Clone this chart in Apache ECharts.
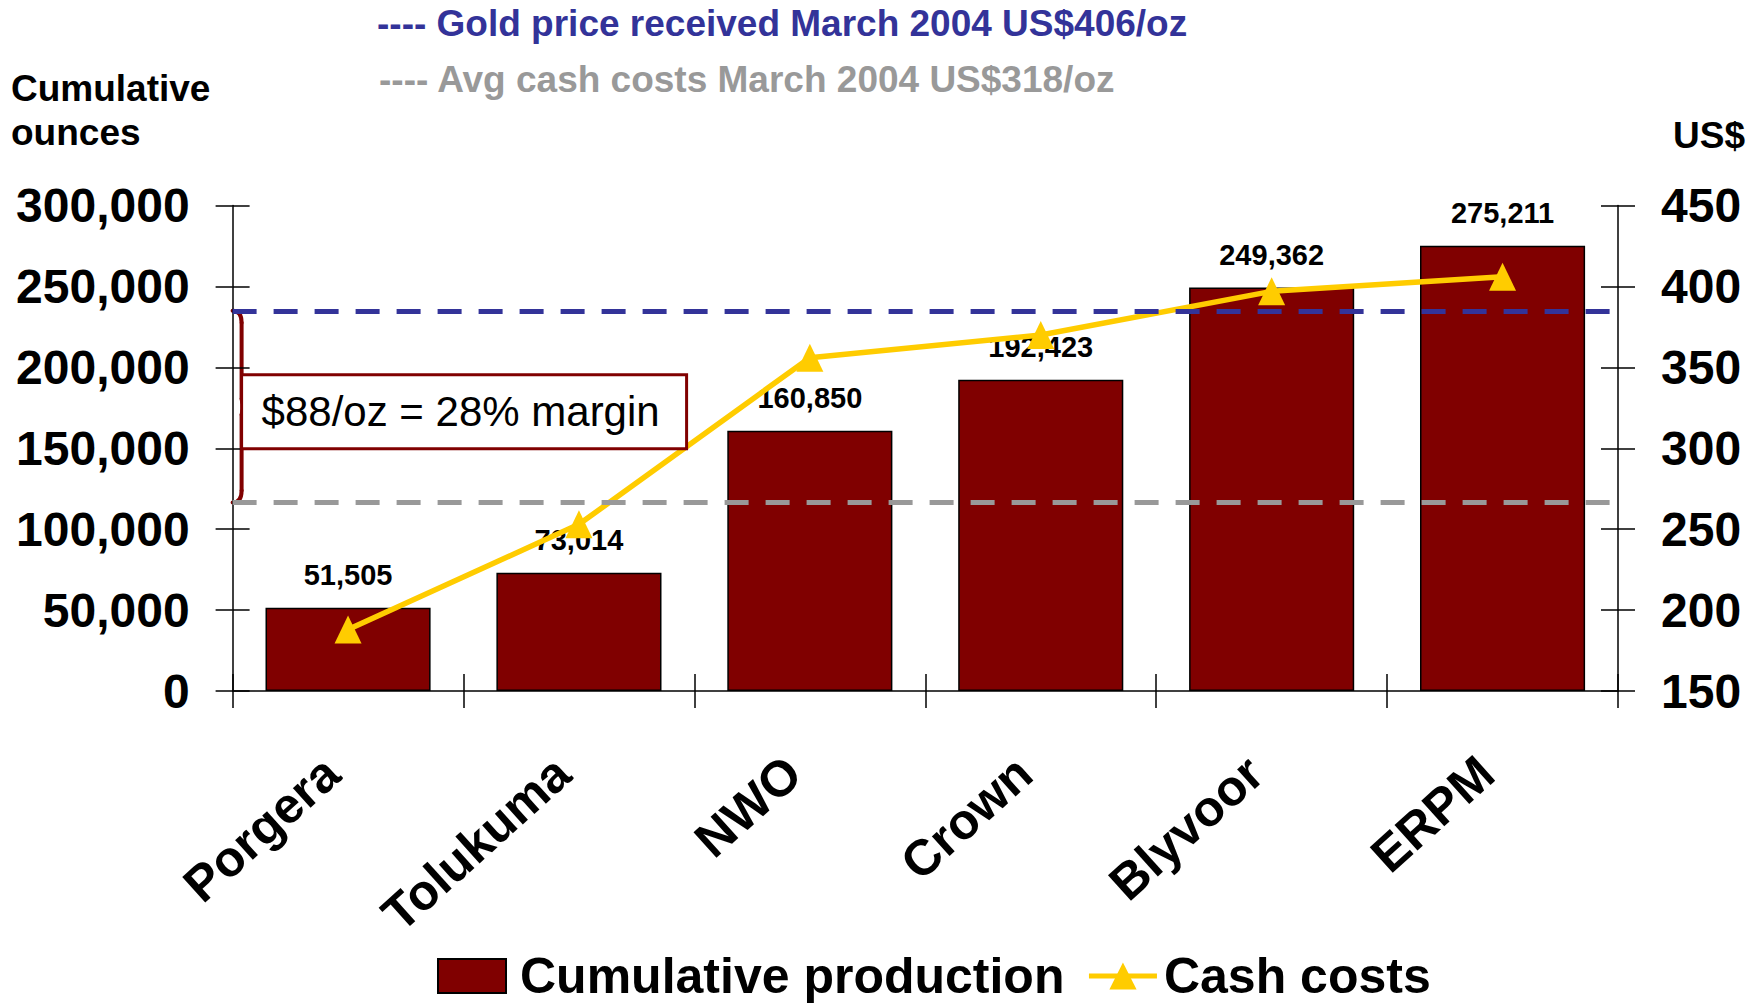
<!DOCTYPE html>
<html>
<head>
<meta charset="utf-8">
<title>Cumulative production and cash costs</title>
<script src="https://cdn.jsdelivr.net/npm/echarts@6.0.0/dist/echarts.min.js"></script>
<style>
  html, body { margin: 0; padding: 0; background: #fff; }
  #chart { width: 1762px; height: 1008px; }
</style>
</head>
<body>
<div id="chart"></div>
<script>
const sites = ['Porgera', 'Tolukuma', 'NWO', 'Crown', 'Blyvoor', 'ERPM']
const cumulativeOunces = [51505, 73014, 160850, 192423, 249362, 275211]
const cashCosts = [188, 253, 356, 370, 397, 406]

const goldPriceLevel = 385
const avgCashCostLevel = 266.5

const ounceAxis = { min: 0, max: 300000, interval: 50000 }
const dollarAxis = { min: 150, max: 450, interval: 50 }

const fontFamily = '"Liberation Sans", Arial, sans-serif'
const gridLeft = 232.6
const black = '#000'
const braceRed = '#800000'
const gold = '#FFCC00'

const tickStyle = { color: black, width: 1.5 }

const valueAxis = (range, position, inside) => ({
  type: 'value',
  position,
  min: range.min,
  max: range.max,
  interval: range.interval,
  axisLine: { show: !inside, lineStyle: tickStyle },
  axisTick: { show: true, inside, length: 17, lineStyle: tickStyle },
  splitLine: { show: false },
  axisLabel: inside
    ? { show: false }
    : {
        show: true,
        margin: 43,
        fontSize: 48,
        fontWeight: 'bold',
        color: black,
        fontFamily,
        formatter: (v) => v.toLocaleString('en-US'),
      },
})

const headerText = (text, left, top, color, extra) => ({
  text,
  left,
  top,
  padding: 0,
  textStyle: Object.assign({ color, fontSize: 37, fontWeight: 'bold', fontFamily }, extra || {}),
})

const option = {
  animation: false,
  backgroundColor: '#fff',
  textStyle: { fontFamily },
  title: [
    headerText('---- Gold price received March 2004 US$406/oz', 377, 5, '#333399'),
    headerText('---- Avg cash costs March 2004 US$318/oz', 379, 61, '#999999'),
    headerText('Cumulative\nounces', 11, 66, black, { lineHeight: 44 }),
    headerText('US$', 1673, 117, black),
  ],
  legend: {
    left: 437,
    top: 951,
    padding: 0,
    itemWidth: 68,
    itemHeight: 34,
    itemGap: 22,
    textStyle: { fontSize: 50, fontWeight: 'bold', color: black, fontFamily, padding: [0, 0, 0, 9] },
    data: [
      { name: 'Cumulative production', icon: 'rect' },
      {
        name: 'Cash costs',
        lineStyle: { color: gold, width: 5 },
        textStyle: { padding: [0, 0, 0, 2] },
      },
    ],
  },
  grid: { left: gridLeft, right: 144, top: 205.6, bottom: 317, containLabel: false },
  xAxis: [
    {
      type: 'category',
      data: sites,
      position: 'bottom',
      axisLine: { show: true, onZero: false, lineStyle: tickStyle },
      axisTick: { show: true, length: 17, lineStyle: tickStyle },
      axisLabel: {
        interval: 0,
        rotate: 42,
        margin: 60,
        padding: [0, 22, 0, 0],
        fontSize: 50,
        fontWeight: 'bold',
        color: black,
        fontFamily,
      },
    },
    {
      type: 'category',
      data: sites,
      position: 'bottom',
      axisLine: { show: false, onZero: false },
      axisTick: { show: true, inside: true, length: 17, lineStyle: tickStyle },
      axisLabel: { show: false },
    },
  ],
  yAxis: [
    valueAxis(ounceAxis, 'left', false),
    valueAxis(dollarAxis, 'right', false),
    valueAxis(ounceAxis, 'left', true),
    valueAxis(dollarAxis, 'right', true),
  ],
  series: [
    {
      name: 'Cumulative production',
      type: 'bar',
      xAxisIndex: 0,
      yAxisIndex: 0,
      data: cumulativeOunces,
      barCategoryGap: '28.5%',
      itemStyle: { color: '#800000', borderColor: black, borderWidth: 1.5 },
      label: {
        show: true,
        position: 'top',
        distance: 18,
        fontSize: 29,
        fontWeight: 'bold',
        color: black,
        fontFamily,
        formatter: (p) => p.value.toLocaleString('en-US'),
      },
    },
    {
      name: 'Cash costs',
      type: 'line',
      xAxisIndex: 0,
      yAxisIndex: 1,
      data: cashCosts,
      symbol: 'triangle',
      symbolSize: [27, 28],
      itemStyle: { color: gold },
      lineStyle: { color: gold, width: 5.5 },
      z: 3,
      markLine: {
        silent: true,
        symbol: 'none',
        label: { show: false },
        lineStyle: { type: [24, 17], width: 5 },
        data: [
          { yAxis: goldPriceLevel, lineStyle: { color: '#333399' } },
          { yAxis: avgCashCostLevel, lineStyle: { color: '#999999' } },
        ],
      },
    },
  ],
}

const chart = echarts.init(document.getElementById('chart'), null, { renderer: 'svg' })
chart.setOption(option)

// brace between the two reference lines, plus the margin call-out box
const yTop = chart.convertToPixel({ yAxisIndex: 1 }, goldPriceLevel)
const yBot = chart.convertToPixel({ yAxisIndex: 1 }, avgCashCostLevel)
const yMid = (yTop + yBot) / 2
const x0 = gridLeft
const xv = x0 + 9
const tip = x0 + 17
const r = 12

const braceStyle = { fill: 'none', stroke: braceRed, lineWidth: 4, lineCap: 'round' }
const curve = (x1, y1, cpx1, cpy1, x2, y2) => ({
  type: 'bezierCurve',
  shape: { x1, y1, cpx1, cpy1, x2, y2 },
  style: braceStyle,
})
const straight = (x1, y1, x2, y2) => ({
  type: 'line',
  shape: { x1, y1, x2, y2 },
  style: braceStyle,
})

chart.setOption({
  graphic: [
    {
      type: 'group',
      z: 10,
      silent: true,
      children: [
        curve(x0, yTop, xv, yTop, xv, yTop + r),
        straight(xv, yTop + r, xv, yMid - 8),
        curve(xv, yMid - 8, xv, yMid, tip, yMid),
        curve(tip, yMid, xv, yMid, xv, yMid + 8),
        straight(xv, yMid + 8, xv, yBot - r),
        curve(xv, yBot - r, xv, yBot, x0, yBot),
      ],
    },
    {
      type: 'rect',
      z: 10,
      silent: true,
      shape: { x: x0 + 9, y: yMid + 5 - 37, width: 445, height: 74 },
      style: { fill: '#fff', stroke: braceRed, lineWidth: 3 },
    },
    {
      type: 'text',
      z: 11,
      silent: true,
      style: {
        text: '$88/oz = 28% margin',
        x: x0 + 29,
        y: yMid + 5,
        verticalAlign: 'middle',
        fontSize: 42,
        fontFamily,
        fill: black,
      },
    },
  ],
})
</script>
</body>
</html>
